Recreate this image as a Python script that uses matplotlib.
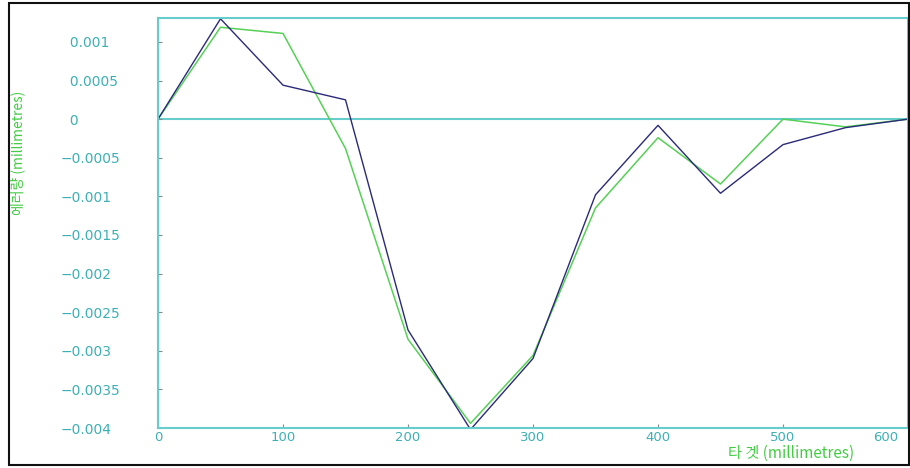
import matplotlib
matplotlib.use("Agg")
import matplotlib.pyplot as plt
import matplotlib.transforms as mtransforms
from matplotlib.patches import Rectangle

# 타겟 위치 (mm)
target = [0, 50, 100, 150, 200, 250, 300, 350, 400, 450, 500, 550, 600]

# 에러량 (mm) - 두 번의 측정
error_blue = [0, 0.0013, 0.00044, 0.00025, -0.00273, -0.00402, -0.0031,
              -0.00098, -0.00008, -0.00096, -0.00033, -0.00011, 0]
error_green = [0, 0.00119, 0.00111, -0.00038, -0.00285, -0.00394, -0.00306,
               -0.00115, -0.00024, -0.00084, 0, -0.0001, 0]

yticks = [0.001, 0.0005, 0, -0.0005, -0.001, -0.0015, -0.002,
          -0.0025, -0.003, -0.0035, -0.004]
xticks = [0, 100, 200, 300, 400, 500, 600]

plt.rcParams['font.family'] = ['Noto Sans CJK KR', 'DejaVu Sans']

frame_col = '#66cccc'
tick_col = '#3cb0b4'
label_col = '#44cc44'

fig = plt.figure(figsize=(9.1, 4.68), dpi=100)
ax = fig.add_axes([158 / 910, 1 - 428 / 468, 750 / 910, 410 / 468])

ax.plot(target, error_green, color='#55d155', linewidth=1.1)
ax.plot(target, error_blue, color='#2a2a7a', linewidth=1.0)
ax.axhline(0, color=frame_col, linewidth=1.5, zorder=1)

ax.set_xlim(0, 600)
ax.set_ylim(-0.004, 0.00131)

for s in ax.spines.values():
    s.set_color(frame_col)
    s.set_linewidth(1.5)

ax.set_xticks(xticks)
ax.set_xticklabels([str(v) for v in xticks])
ylabels = []
for v in yticks:
    if v >= 0:
        ylabels.append('\u2007' + ('%g' % v))
    else:
        ylabels.append('\u2212' + ('%g' % -v))
ax.set_yticks(yticks)
ax.set_yticklabels(ylabels)

ax.tick_params(axis='both', direction='in', length=3, width=0.8,
               color='#888888', labelcolor=tick_col, labelsize=10)
ax.tick_params(axis='x', pad=2, labelsize=9.5)
ax.tick_params(axis='y', pad=70)
for lab in ax.get_yticklabels():
    lab.set_horizontalalignment('left')
    lab.set_family('DejaVu Sans')
for lab in ax.get_xticklabels():
    lab.set_family('DejaVu Sans')

# 마지막 눈금 라벨은 테두리 안쪽으로 당김
last = ax.get_xticklabels()[-1]
last.set_transform(last.get_transform() +
                   mtransforms.ScaledTranslation(-0.22, 0, fig.dpi_scale_trans))

fig.text(791 / 910, 1 - 453 / 468, '타 겟 (millimetres)', color=label_col,
         fontsize=11, ha='center', va='center')
fig.text(18 / 910, 1 - 153 / 468, '에러량 (millimetres)', color=label_col,
         fontsize=10, rotation=90, ha='center', va='center')

# 바깥 테두리
fig.add_artist(Rectangle((9 / 910, 3 / 468), 900 / 910, 462 / 468,
                         transform=fig.transFigure, fill=False,
                         edgecolor='#111111', linewidth=1.5))

fig.savefig('out.png', dpi=100)
